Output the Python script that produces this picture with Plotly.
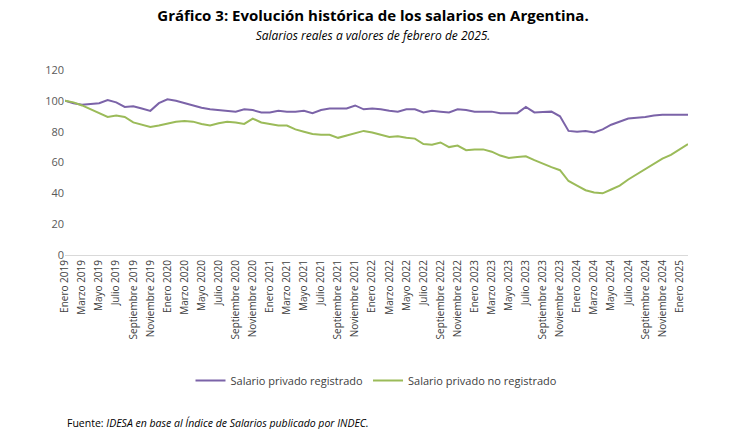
import plotly.graph_objects as go

meses = ["Enero", "Febrero", "Marzo", "Abril", "Mayo", "Junio", "Julio", "Agosto",
         "Septiembre", "Octubre", "Noviembre", "Diciembre"]
periodos = [f"{m} {a}" for a in range(2019, 2026) for m in meses][:74]

registrado = [100, 98.5, 97.5, 98, 98.5, 100.5, 99, 96, 96.5, 95, 93.5, 98.5,
              101, 100, 98.5, 97, 95.5, 94.5, 94, 93.5, 93, 94.5, 94, 92.5,
              92.5, 93.5, 93, 93, 93.5, 92, 94, 95, 95, 95, 97, 94.5,
              95, 94.5, 93.5, 93, 94.5, 94.5, 92.5, 93.5, 93, 92.5, 94.5, 94,
              93, 93, 93, 92, 92, 92, 96, 92.5, 92.8, 93, 90, 80.5,
              80, 80.5, 79.5, 81.5, 84.5, 86.5, 88.5, 89, 89.5, 90.5, 91, 91,
              91, 91]
no_registrado = [100, 99, 97, 94.5, 91.5, 89.5, 90.5, 89.5, 86, 84.5, 83, 84,
                 85.5, 86.5, 87, 86.5, 85, 84, 85.5, 86.5, 86, 85, 88.5, 86,
                 85, 84, 84, 81.5, 80, 78.5, 78, 78, 76, 77.5, 79, 80.5,
                 79.5, 78, 76.5, 77, 76, 75.5, 72, 71.5, 73, 70, 71, 68,
                 68.5, 68.5, 67, 64.5, 63, 63.5, 64, 61.5, 59, 57, 55, 48,
                 45, 42, 40.5, 40, 42.5, 45, 49, 52.5, 56, 59, 62.5, 65,
                 68.5, 72]

fig = go.Figure()
fig.add_trace(go.Scatter(x=periodos, y=registrado, mode="lines", name="Salario privado registrado",
                         line=dict(color="#7b63a8", width=2)))
fig.add_trace(go.Scatter(x=periodos, y=no_registrado, mode="lines", name="Salario privado no registrado",
                         line=dict(color="#9bbb59", width=2)))

fig.update_layout(
    width=730, height=429, paper_bgcolor="white", plot_bgcolor="white",
    font=dict(family="Open Sans, sans-serif", size=11, color="#595959"),
    margin=dict(l=57, r=50, t=62, b=182),
    title=dict(text="<b>Gráfico 3: Evolución histórica de los salarios en Argentina.</b>"
                    "<br><span style='font-size:12px'><i>Salarios reales a valores de febrero de 2025.</i></span>",
               x=0.5, xanchor="center", y=0.97, font=dict(size=15, color="#000000")),
    xaxis=dict(type="category", tickvals=periodos[::2], tickangle=-90, showgrid=False,
               showline=True, linecolor="#d9d9d9", tickfont=dict(size=10, color="#404040")),
    yaxis=dict(range=[0, 120], dtick=20, showgrid=False, zeroline=False,
               tickfont=dict(size=11, color="#595959")),
    legend=dict(orientation="h", x=0.5, xanchor="center", y=-0.6, yanchor="top",
                font=dict(size=11, color="#404040")),
)
fig.add_annotation(text="Fuente: <i>IDESA en base al Índice de Salarios publicado por INDEC.</i>",
                   xref="paper", yref="paper", x=0.0, y=-0.86, xanchor="left", yanchor="top",
                   showarrow=False, font=dict(size=10.5, color="#000000"))
fig.write_html("out.html")
